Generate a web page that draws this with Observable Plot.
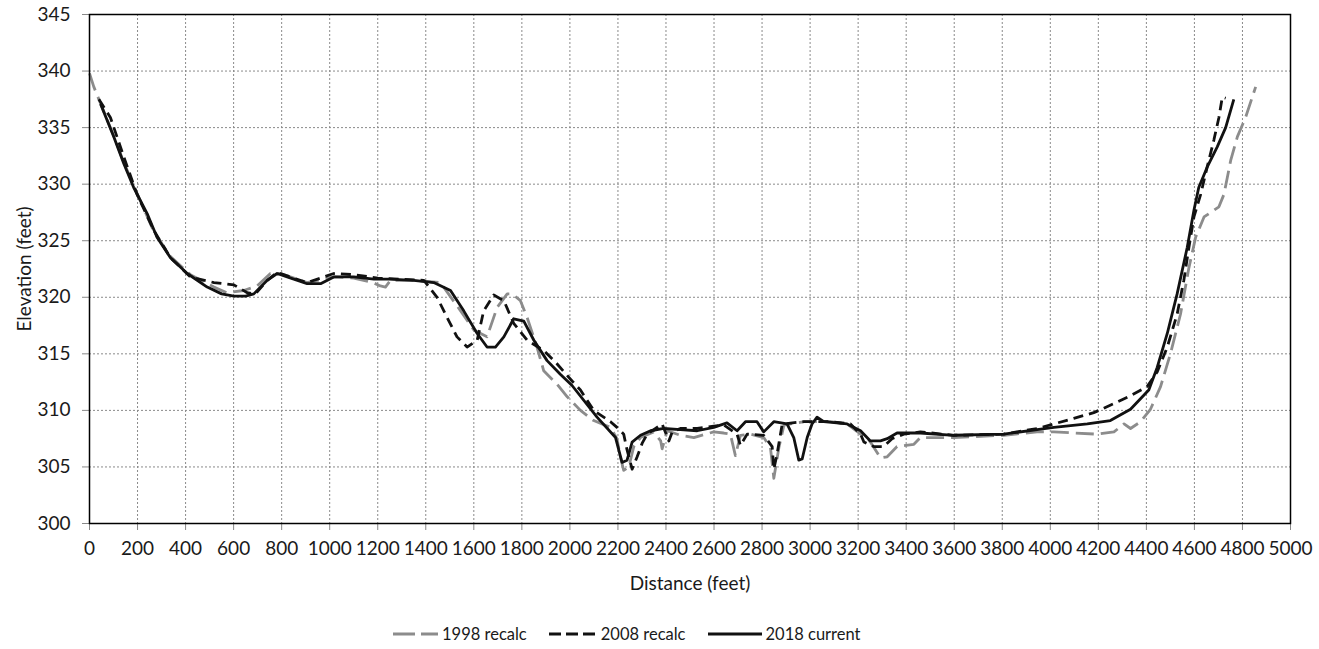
<!DOCTYPE html>
<html>
<head>
<meta charset="utf-8">
<script src="https://cdn.jsdelivr.net/npm/d3@7"></script>
<script src="https://cdn.jsdelivr.net/npm/@observablehq/plot@0.6"></script>
<style>
  html, body { margin: 0; padding: 0; background: #fff; }
  body { width: 1319px; height: 649px; overflow: hidden; font-family: Lato, "Open Sans", sans-serif; }
  #legend { display: flex; align-items: center; height: 22px; margin-top: 18px; padding-left: 393px; font-size: 16.5px; color: #1a1a1a; }
  .item { display: flex; align-items: center; margin-right: 22px; }
  .item svg { margin-right: 4px; }
</style>
</head>
<body>
<div id="chart"></div>
<div id="legend"></div>
<script>
const seriesNames = ["1998 recalc", "2008 recalc", "2018 current"];
const seriesColors = ["#8c8c8c", "#111111", "#111111"];
const seriesDashes = ["18,7", "10,6", null];

const xTicks = [0,200,400,600,800,1000,1200,1400,1600,1800,2000,2200,2400,2600,2800,3000,3200,3400,3600,3800,4000,4200,4400,4600,4800,5000];
const yTicks = [300,305,310,315,320,325,330,335,340,345];

const dist1998 = [0,18,100,143,198,268,337,420,518,573,642,698,753,795,906,1017,1100,1180,1211,1232,1253,1350,1461,1545,1600,1655,1697,1739,1760,1794,1822,1863,1891,1947,1989,2044,2099,2169,2196,2210,2224,2245,2266,2294,2349,2378,2384,2405,2460,2516,2599,2640,2668,2689,2710,2752,2807,2835,2849,2870,2891,2974,3085,3154,3210,3237,3251,3293,3321,3362,3432,3459,3598,3806,3945,4015,4098,4195,4265,4307,4334,4376,4417,4459,4500,4542,4577,4605,4640,4681,4702,4723,4751,4779,4813,4855];
const elev1998 = [339.8,338.6,334.3,331.9,329.2,325.8,323.6,322.0,320.9,320.4,320.6,321.0,322.1,322.1,321.3,321.8,321.7,321.3,321.0,320.9,321.5,321.5,321.3,318.8,317.1,316.5,319.1,320.3,320.3,319.7,318.2,315.6,313.5,312.3,311.2,310.0,309.1,308.5,307.5,305.9,304.7,305.0,306.8,307.6,308.1,307.3,306.6,308.2,307.8,307.6,308.1,308.0,307.9,306.0,307.8,307.9,307.6,306.7,304.0,306.7,308.7,309.0,309.0,308.8,307.9,307.6,307.2,305.8,305.9,306.8,307.0,307.6,307.6,307.8,308.1,308.1,308.0,307.9,308.1,308.8,308.4,309.0,310.1,312.1,315.0,318.5,322.6,325.3,327.1,327.7,328.0,329.1,332.1,334.2,335.9,338.6];

const dist2008 = [39,87,143,198,268,337,420,518,601,657,691,740,781,906,1017,1100,1200,1300,1392,1447,1489,1530,1572,1614,1641,1683,1725,1766,1822,1891,1947,2009,2044,2099,2169,2196,2224,2238,2259,2280,2301,2322,2384,2412,2426,2460,2530,2599,2641,2696,2710,2738,2807,2842,2849,2863,2884,2974,3085,3168,3210,3224,3265,3307,3341,3390,3459,3598,3806,3945,4015,4098,4181,4265,4334,4403,4445,4487,4528,4556,4577,4598,4626,4653,4681,4702,4716,4730];
const elev2008 = [337.5,335.9,332.4,329.1,325.9,323.5,321.8,321.3,321.1,320.4,320.3,321.5,322.2,321.3,322.1,322.0,321.7,321.6,321.5,320.0,318.2,316.5,315.6,316.2,318.8,320.2,319.7,317.7,316.2,315.3,314.1,312.6,311.8,310.0,309.0,308.5,307.9,306.5,304.8,305.9,307.1,307.9,308.8,307.3,308.1,308.4,308.4,308.6,308.7,307.9,306.9,307.9,307.8,306.8,304.8,306.2,308.8,309.0,309.0,308.8,307.9,307.2,306.8,306.8,307.5,307.9,308.1,307.8,307.9,308.4,308.8,309.3,309.8,310.6,311.3,312.1,313.4,315.6,318.5,321.5,324.4,327.1,329.1,331.5,333.9,335.9,337.7,337.6];

const dist2018 = [46,101,143,184,240,281,337,407,490,550,601,650,684,740,781,823,906,962,1017,1100,1184,1250,1350,1433,1503,1558,1614,1655,1690,1725,1766,1808,1850,1905,1960,2009,2113,2190,2217,2238,2259,2294,2336,2391,2460,2530,2599,2654,2696,2731,2779,2807,2849,2904,2932,2953,2967,2988,3008,3029,3057,3154,3210,3251,3293,3321,3362,3459,3598,3806,3945,4015,4154,4250,4334,4410,4445,4487,4528,4570,4598,4618,4653,4695,4730,4764];
const elev2018 = [337.1,334.2,331.8,329.7,327.4,325.3,323.5,322.1,320.9,320.3,320.1,320.1,320.3,321.5,322.1,321.8,321.2,321.2,321.8,321.8,321.6,321.6,321.5,321.3,320.6,318.8,316.8,315.6,315.6,316.5,318.1,317.9,316.2,314.4,313.2,312.2,309.4,307.6,305.4,305.6,307.2,307.8,308.2,308.4,308.3,308.2,308.5,308.9,308.2,309.0,309.0,308.1,309.0,308.8,307.6,305.6,305.7,307.6,308.8,309.4,309.0,308.8,308.2,307.3,307.3,307.5,308.0,308.0,307.8,307.9,308.3,308.5,308.8,309.1,310.1,311.8,313.8,316.8,320.3,324.4,327.7,329.7,331.5,333.3,335.0,337.5];

const seriesDist = [dist1998, dist2008, dist2018];
const seriesElev = [elev1998, elev2008, elev2018];

const lineMarks = seriesNames.map((name, s) => {
  const rows = seriesDist[s].map((d, i) => ({distance: d, elevation: seriesElev[s][i]}));
  const opts = {x: "distance", y: "elevation", stroke: seriesColors[s], strokeWidth: 2.8, strokeLinejoin: "round", strokeLinecap: "butt"};
  if (seriesDashes[s]) opts.strokeDasharray = seriesDashes[s];
  return Plot.line(rows, opts);
});

const fmt = d => String(d);

const chart = Plot.plot({
  width: 1319,
  height: 605,
  marginTop: 14,
  marginLeft: 89,
  marginRight: 29,
  marginBottom: 82,
  style: {fontFamily: "Lato, 'Open Sans', sans-serif", fontSize: "19px", color: "#1a1a1a", background: "#fff"},
  x: {domain: [0, 5000]},
  y: {domain: [300, 345]},
  marks: [
    Plot.gridX(xTicks.slice(1, -1), {stroke: "#8a8a8a", strokeOpacity: 1, strokeDasharray: "2,2", strokeWidth: 1}),
    Plot.gridY(yTicks.slice(1, -1), {stroke: "#8a8a8a", strokeOpacity: 1, strokeDasharray: "2,2", strokeWidth: 1}),
    Plot.axisX({ticks: xTicks, tickFormat: fmt, tickSize: 7, tickPadding: 11, stroke: "#888", fill: "#1a1a1a", fontSize: 19,
      label: "Distance (feet)", labelAnchor: "center", labelArrow: "none", labelOffset: 66}),
    Plot.axisY({ticks: yTicks, tickFormat: fmt, tickSize: 7, tickPadding: 12, stroke: "#888", fill: "#1a1a1a", fontSize: 19,
      label: "Elevation (feet)", labelAnchor: "center", labelArrow: "none", labelOffset: 72}),
    ...lineMarks,
    Plot.frame({stroke: "#000", strokeWidth: 1.5})
  ]
});
document.getElementById("chart").append(chart);

const legend = document.getElementById("legend");
const swatchW = [45, 48, 54];
seriesNames.forEach((name, s) => {
  const item = document.createElement("div");
  item.className = "item";
  const ns = "http://www.w3.org/2000/svg";
  const svg = document.createElementNS(ns, "svg");
  svg.setAttribute("width", swatchW[s]);
  svg.setAttribute("height", 10);
  const ln = document.createElementNS(ns, "line");
  ln.setAttribute("x1", 0); ln.setAttribute("x2", swatchW[s]);
  ln.setAttribute("y1", 5); ln.setAttribute("y2", 5);
  ln.setAttribute("stroke", seriesColors[s]);
  ln.setAttribute("stroke-width", 2.8);
  if (seriesDashes[s]) ln.setAttribute("stroke-dasharray", s === 0 ? "22,6" : "12,5");
  svg.append(ln);
  const span = document.createElement("span");
  span.textContent = name;
  item.append(svg, span);
  legend.append(item);
});
</script>
</body>
</html>
